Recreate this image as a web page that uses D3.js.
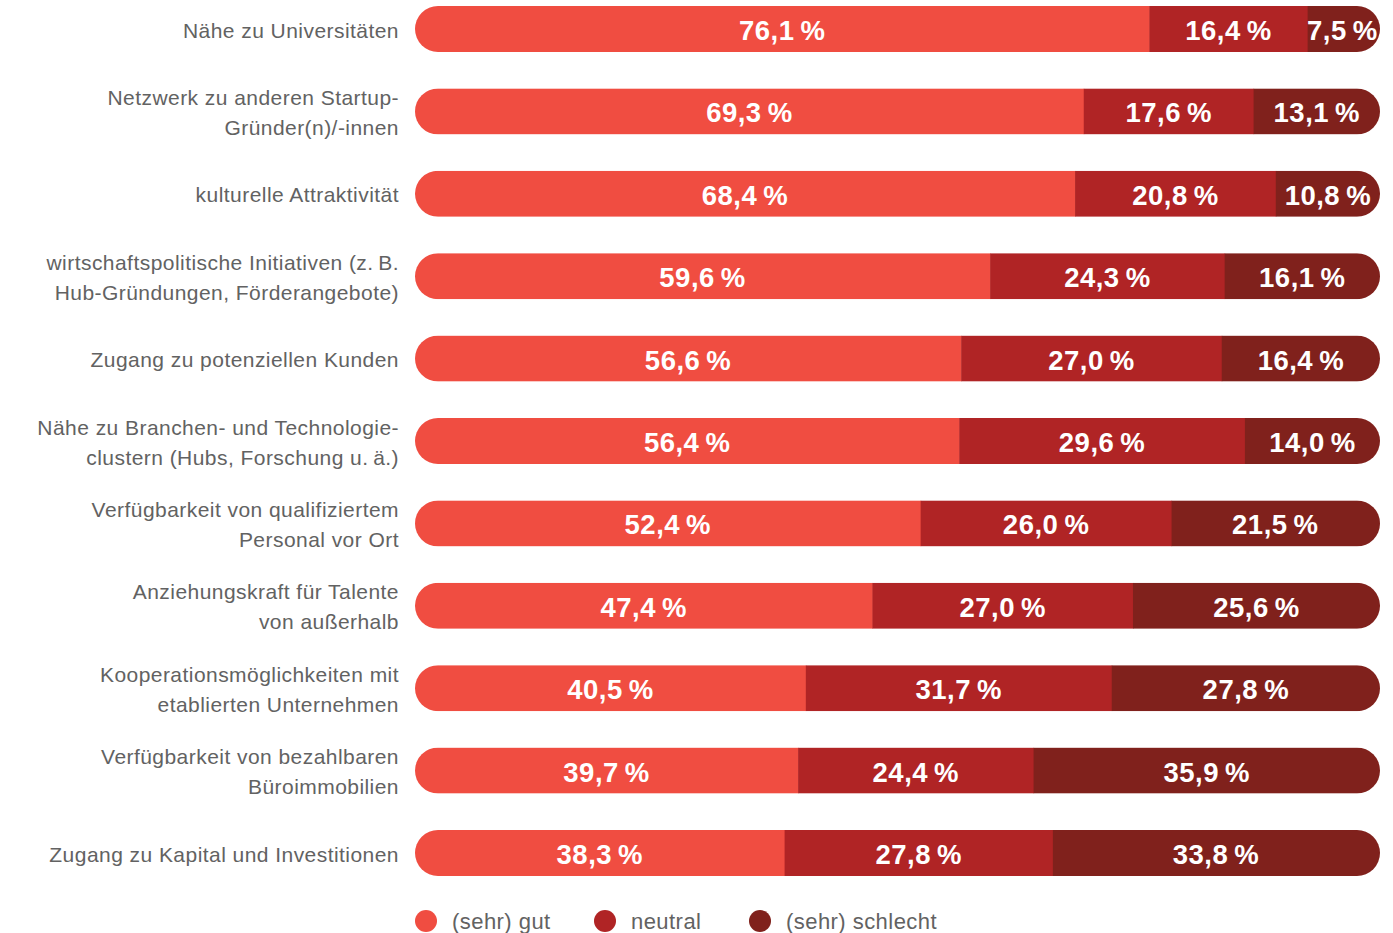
<!DOCTYPE html>
<html>
<head>
<meta charset="utf-8">
<script src="https://cdn.jsdelivr.net/npm/d3@7"></script>
<style>
  html, body { margin: 0; padding: 0; background: #fff; }
  svg { display: block; }
</style>
</head>
<body>
<svg id="chart" width="1393" height="933"></svg>
<script>
// Standortfaktoren: Bewertung in Prozent
const categories = [
  ["Nähe zu Universitäten"],
  ["Netzwerk zu anderen Startup-", "Gründer(n)/-innen"],
  ["kulturelle Attraktivität"],
  ["wirtschaftspolitische Initiativen (z.\u2009B.", "Hub-Gründungen, Förderangebote)"],
  ["Zugang zu potenziellen Kunden"],
  ["Nähe zu Branchen- und Technologie-", "clustern (Hubs, Forschung u.\u2009ä.)"],
  ["Verfügbarkeit von qualifiziertem", "Personal vor Ort"],
  ["Anziehungskraft für Talente", "von außerhalb"],
  ["Kooperationsmöglichkeiten mit", "etablierten Unternehmen"],
  ["Verfügbarkeit von bezahlbaren", "Büroimmobilien"],
  ["Zugang zu Kapital und Investitionen"]
];
const gut      = [76.1, 69.3, 68.4, 59.6, 56.6, 56.4, 52.4, 47.4, 40.5, 39.7, 38.3];
const neutral  = [16.4, 17.6, 20.8, 24.3, 27.0, 29.6, 26.0, 27.0, 31.7, 24.4, 27.8];
const schlecht = [7.5, 13.1, 10.8, 16.1, 16.4, 14.0, 21.5, 25.6, 27.8, 35.9, 33.8];
const seriesNames = ["(sehr) gut", "neutral", "(sehr) schlecht"];
const seriesColors = ["#f04d41", "#b02425", "#80211c"];

const svg = d3.select("#chart");
const FONT = "'Liberation Sans', Arial, sans-serif";

const x = d3.scaleLinear().domain([0, 100]).range([415, 1380]);
const barH = 46;
const y = d3.scalePoint()
  .domain(d3.range(categories.length))
  .range([6, 830]);
const yTop = i => y(i);

const rows = categories.map((c, i) => {
  const vals = [gut[i], neutral[i], schlecht[i]];
  let acc = 0;
  const segs = vals.map((v, k) => {
    const s = { x0: acc, x1: acc + v, v, k, i };
    acc += v;
    return s;
  });
  return { i, label: c, segs, total: acc };
});

// pill-shaped clip per row
const defs = svg.append("defs");
rows.forEach(r => {
  defs.append("clipPath").attr("id", "pill" + r.i)
    .append("rect")
    .attr("x", x(0))
    .attr("y", yTop(r.i))
    .attr("width", x(100) - x(0))
    .attr("height", barH)
    .attr("rx", barH / 2)
    .attr("ry", barH / 2);
});

const fmt = v => d3.format(".1f")(v).replace(".", ",") + "\u2009%";

const g = svg.selectAll("g.row").data(rows).enter().append("g")
  .attr("class", "row")
  .attr("clip-path", d => `url(#pill${d.i})`);

g.selectAll("rect.seg").data(d => d.segs).enter()
  .append("rect")
  .attr("class", "seg")
  .attr("x", s => x(s.x0))
  .attr("y", s => yTop(s.i))
  .attr("width", s => x(s.k === 2 ? Math.max(s.x1, 100) : s.x1) - x(s.x0) + (s.k === 2 ? 0 : 0.5))
  .attr("height", barH)
  .attr("fill", s => seriesColors[s.k]);

svg.selectAll("g.vals").data(rows).enter().append("g")
  .attr("class", "vals")
  .selectAll("text").data(d => d.segs).enter()
  .append("text")
  .attr("x", s => (x(s.x0) + x(s.x1)) / 2 - (s.k === 2 && s.v < 10 ? 1.5 : 0))
  .attr("y", s => yTop(s.i) + barH / 2 + 11)
  .attr("text-anchor", "middle")
  .attr("fill", "#fff")
  .attr("font-family", FONT)
  .attr("font-weight", "bold")
  .attr("font-size", 27.5)
  .attr("letter-spacing", 0.5)
  .text(s => fmt(s.v));

// category labels
const lab = svg.selectAll("text.cat").data(rows).enter().append("text")
  .attr("class", "cat")
  .attr("text-anchor", "end")
  .attr("fill", "#626262")
  .attr("font-family", FONT)
  .attr("font-size", 21)
  .attr("letter-spacing", 0.45)
  .attr("y", d => yTop(d.i) + barH / 2 + 8.5 - (d.label.length - 1) * 15);
lab.selectAll("tspan").data(d => d.label).enter().append("tspan")
  .attr("x", 399)
  .attr("dy", (t, j) => j === 0 ? 0 : 30)
  .text(t => t);

// legend
const legendX = [426, 605, 760];
const leg = svg.selectAll("g.leg").data(seriesNames).enter().append("g")
  .attr("class", "leg")
  .attr("transform", (d, k) => `translate(${legendX[k]},921)`);
leg.append("circle").attr("r", 11).attr("fill", (d, k) => seriesColors[k]);
leg.append("text")
  .attr("x", 26)
  .attr("y", 8)
  .attr("fill", "#626262")
  .attr("font-family", FONT)
  .attr("font-size", 22)
  .attr("letter-spacing", 0.45)
  .text(d => d);
</script>
</body>
</html>
